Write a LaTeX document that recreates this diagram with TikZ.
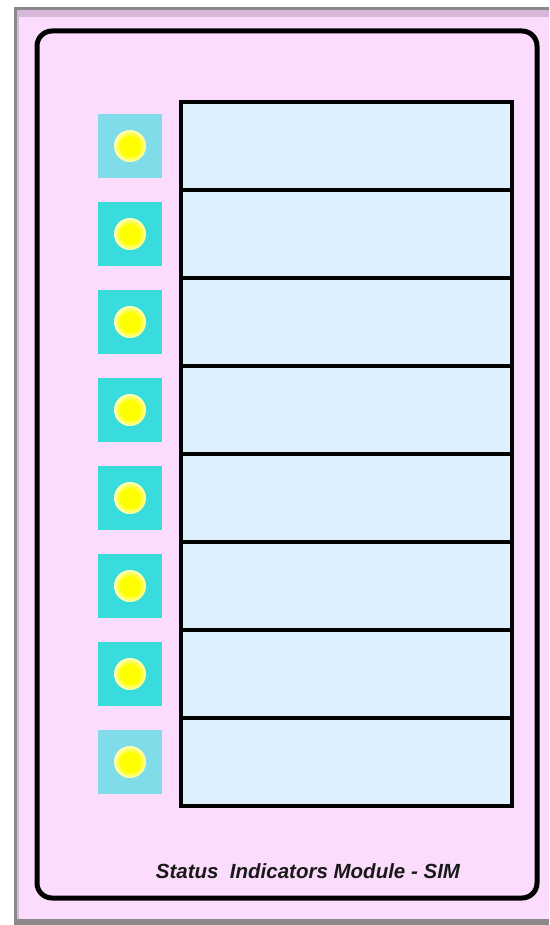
\documentclass[tikz,border=0pt]{standalone}
\usepackage{fontspec}
\newfontfamily\simfont{Liberation Sans}
\definecolor{panelpink}{RGB}{252,220,252}
\definecolor{rimpurple}{RGB}{216,184,216}
\definecolor{rimgray}{RGB}{140,136,140}
\definecolor{cellblue}{RGB}{222,240,254}
\definecolor{ledpale}{RGB}{128,220,232}
\definecolor{ledcyan}{RGB}{56,220,220}
\pgfdeclareradialshading{ledglow}{\pgfpointorigin}{color(0bp)=(yellow); color(15bp)=(yellow); color(25bp)=(white!75!yellow); color(50bp)=(white!75!yellow)}
\begin{document}
\begin{tikzpicture}[x=1pt,y=-1pt,
    cell/.style={fill=cellblue,draw=black,line width=3.2},
    lamp/.style={shading=ledglow}]
                        \useasboundingbox (0,0) rectangle (549,925);
                        % panel and rim
                        \fill[panelpink] (14,8) rectangle (549,925);
                        \fill[rimpurple] (14,8) rectangle (549,17);
                        \fill[rimpurple] (14,8) rectangle (19,925);
                        \draw[rimgray,line width=3] (15,925) -- (15,9) -- (549,9);
                        \fill[rimgray] (14,919) rectangle (549,925);
                        \draw[line width=5,rounded corners=15] (37,31) rectangle (537,898);

                        \filldraw[cell] (181,102) rectangle (512,190);
                        \filldraw[cell] (181,190) rectangle (512,278);
                        \filldraw[cell] (181,278) rectangle (512,366);
                        \filldraw[cell] (181,366) rectangle (512,454);
                        \filldraw[cell] (181,454) rectangle (512,542);
                        \filldraw[cell] (181,542) rectangle (512,630);
                        \filldraw[cell] (181,630) rectangle (512,718);
                        \filldraw[cell] (181,718) rectangle (512,806);

                        \fill[ledpale] (98,114) rectangle (162,178);
                        \fill[ledcyan] (98,202) rectangle (162,266);
                        \fill[ledcyan] (98,290) rectangle (162,354);
                        \fill[ledcyan] (98,378) rectangle (162,442);
                        \fill[ledcyan] (98,466) rectangle (162,530);
                        \fill[ledcyan] (98,554) rectangle (162,618);
                        \fill[ledcyan] (98,642) rectangle (162,706);
                        \fill[ledpale] (98,730) rectangle (162,794);

                        \shade[lamp] (130,146) circle (16);
                        \shade[lamp] (130,234) circle (16);
                        \shade[lamp] (130,322) circle (16);
                        \shade[lamp] (130,410) circle (16);
                        \shade[lamp] (130,498) circle (16);
                        \shade[lamp] (130,586) circle (16);
                        \shade[lamp] (130,674) circle (16);
                        \shade[lamp] (130,762) circle (16);

                        \node[font=\simfont\bfseries\itshape\fontsize{20.5}{24}\selectfont,text=black!90] (simlabel) at (308,871) {Status\ \ Indicators Module - SIM};
                    \end{tikzpicture}
\end{document}
